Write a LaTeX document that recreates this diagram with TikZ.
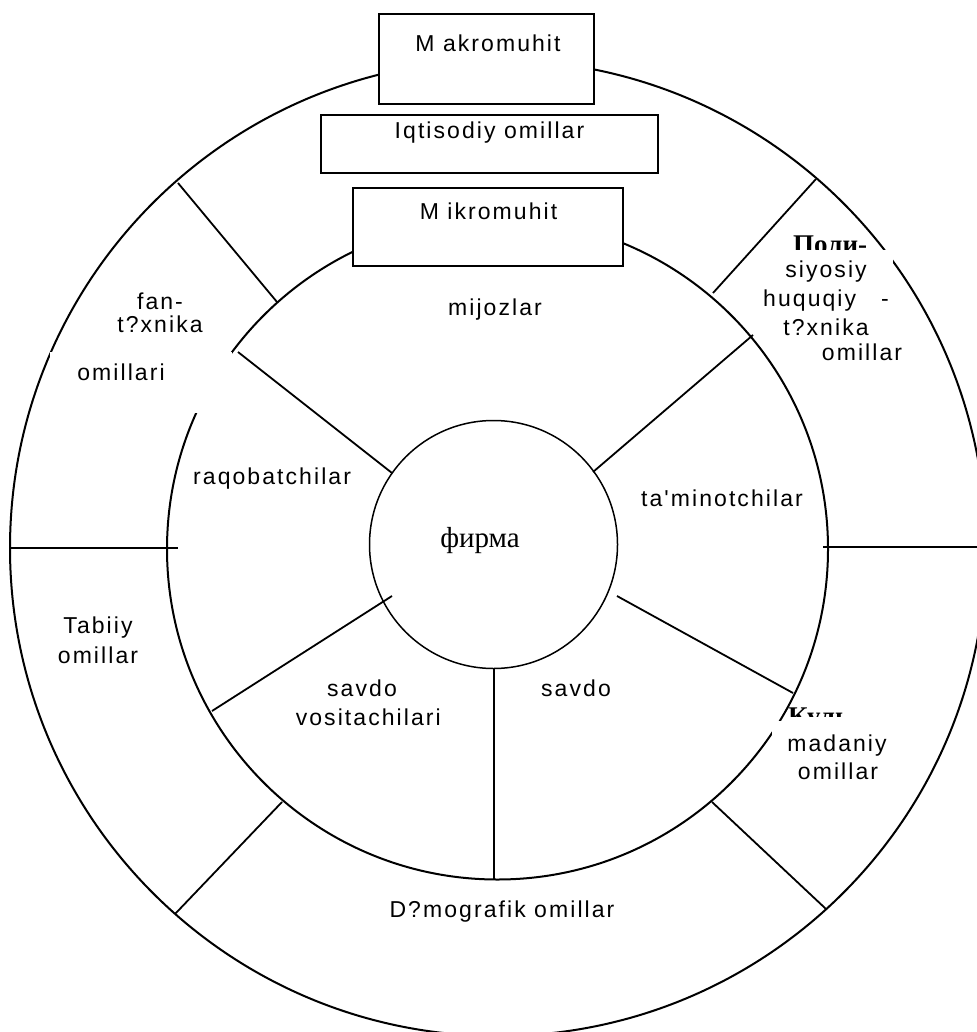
\documentclass[tikz,border=0pt]{standalone}
\usepackage{fontspec}
\setmainfont{Liberation Sans}
\newfontfamily\lblfont[LetterSpace=9]{Liberation Sans}
\newfontfamily\cyrfont{Liberation Serif}
\begin{document}
\begin{tikzpicture}[x=1pt,y=-1pt,
  ring/.style={line width=2pt},
  thinring/.style={line width=1.5pt},
  divider/.style={line width=1.8pt},
  boxframe/.style={draw, line width=1.6pt, fill=white},
  masker/.style={fill=white, draw=none},
  lbl/.style={font=\lblfont\fontsize{23}{26}\selectfont, inner sep=0pt, anchor=base},
  cyr/.style={font=\cyrfont\bfseries\fontsize{27}{30}\selectfont, inner sep=0pt, anchor=base west},
  firm/.style={font=\cyrfont\fontsize{29}{32}\selectfont, inner sep=0pt, anchor=base}]
\useasboundingbox (0,0) rectangle (976,1032);

% centres
\coordinate (Oout) at (498,548);
\coordinate (Omid) at (497.5,549);
\coordinate (Oin) at (493.5,544.5);

% circles
\draw[ring] (Oout) circle (488);
\draw[ring] (Omid) circle (330.5);
\draw[thinring] (Oin) circle (124);

% outer ring dividers
\coordinate (o1a) at (11,548);   \coordinate (o1b) at (178,548);
\coordinate (o2a) at (823,547);  \coordinate (o2b) at (990,547);
\coordinate (o3a) at (178,183);  \coordinate (o3b) at (277,302);
\coordinate (o4a) at (713,293);  \coordinate (o4b) at (816,179);
\coordinate (o5a) at (282,802);  \coordinate (o5b) at (175,914);
\coordinate (o6a) at (712,802);  \coordinate (o6b) at (826,909);
\draw[divider] (o1a) -- (o1b);
\draw[divider] (o2a) -- (o2b);
\draw[divider] (o3a) -- (o3b);
\draw[divider] (o4a) -- (o4b);
\draw[divider] (o5a) -- (o5b);
\draw[divider] (o6a) -- (o6b);

% middle ring dividers
\coordinate (m1a) at (238,352);  \coordinate (m1b) at (392,473);
\coordinate (m2a) at (753,335);  \coordinate (m2b) at (593,472);
\coordinate (m3a) at (212,711);  \coordinate (m3b) at (392,596);
\coordinate (m4a) at (617,596);  \coordinate (m4b) at (793,693);
\coordinate (m5a) at (494,669);  \coordinate (m5b) at (494,879);
\draw[divider] (m1a) -- (m1b);
\draw[divider] (m2a) -- (m2b);
\draw[divider] (m3a) -- (m3b);
\draw[divider] (m4a) -- (m4b);
\draw[line width=1.4pt] (m5a) -- (m5b);

% boxes
\draw[boxframe] (379,14) rectangle (594,104);
\draw[boxframe] (321,115) rectangle (658,173);
\draw[boxframe] (353,188) rectangle (623,266);
\node[lbl] (makro) at (488,52) {M akromuhit};
\node[lbl] (iqt) at (489.5,139) {Iqtisodiy omillar};
\node[lbl] (mikro) at (488.5,219) {M ikromuhit};

% partly hidden Cyrillic headings
\begin{scope}
  \clip (785,225) rectangle (880,250);
  \node[cyr] (poli) at (793,253) {Поли-};
\end{scope}
\begin{scope}
  \clip (780,700) rectangle (880,716);
  \node[cyr] (kul) at (788,725) {Куль-};
\end{scope}

% white gaps seen in the reference
\fill[masker] (50,352) rectangle (232,413);
\fill[masker] (780,250) rectangle (893,285);
\fill[masker] (772,721) rectangle (890,790);

\node[lbl] (fan1) at (160,309) {fan-};
\node[lbl] (fan2) at (160,332) {t?xnika};
\node[lbl] (fan3) at (121,380) {omillari};

\node[lbl] (siy1) at (826,277) {siyosiy};
\node[lbl, anchor=base west] (siy2) at (763,306) {huquqiy};
\node[lbl] (siy2b) at (885,306) {-};
\node[lbl] (siy3) at (826,335) {t?xnika};
\node[lbl] (siy4) at (862,360) {omillar};

\node[lbl] (tab1) at (98,633) {Tabiiy};
\node[lbl] (tab2) at (98,663) {omillar};

\node[lbl] (mad1) at (837,751) {madaniy};
\node[lbl] (mad2) at (838,779) {omillar};

\node[lbl] (demo) at (502,917) {D?mografik omillar};

% middle ring labels
\node[lbl] (mij) at (495,315) {mijozlar};
\node[lbl, anchor=base west] (raq) at (193,484) {raqobatchilar};
\node[lbl, anchor=base east] (tam) at (803,506) {ta'minotchilar};
\node[lbl] (sav1) at (362,696) {savdo};
\node[lbl, anchor=base east] (sav2) at (441,725) {vositachilari};
\node[lbl] (sav3) at (576,696) {savdo};

% centre
\node[firm] (firma) at (480,547) {фирма};
\end{tikzpicture}
\end{document}
